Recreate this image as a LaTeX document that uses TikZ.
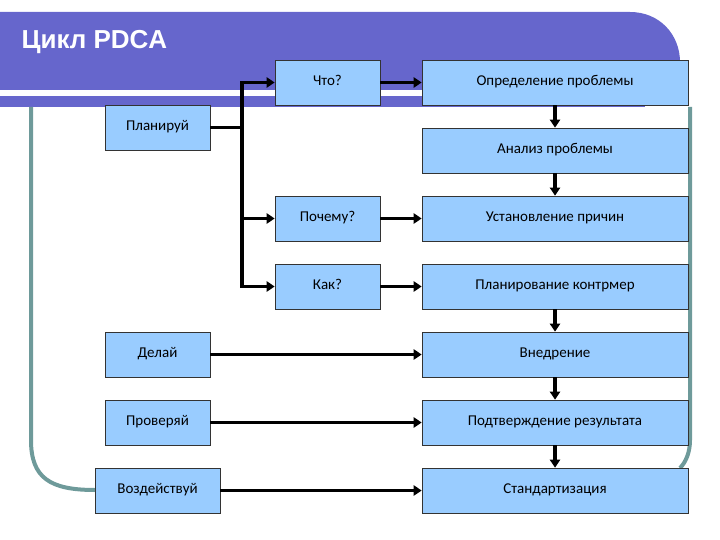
\documentclass[tikz,border=0pt]{standalone}
\usepackage{fontspec}
\setmainfont{Carlito}
\newfontfamily\titlefont{Liberation Sans}
\usetikzlibrary{arrows.meta}
\definecolor{band}{HTML}{6666CC}
\definecolor{boxfill}{HTML}{99CCFF}
\definecolor{loopcol}{HTML}{6E9A9A}
\begin{document}
\begin{tikzpicture}[x=1pt,y=-1pt,
  box/.style={draw=black!80,line width=0.6pt,fill=boxfill,font=\fontsize{15}{17}\selectfont,inner sep=0pt},
  arr/.style={line width=3.5pt,-{Triangle[length=8pt,width=10pt]}},
  ln/.style={line width=3.5pt},
  cyc/.style={draw=loopcol,line width=4pt}]
\useasboundingbox (0,0) rectangle (720,540);
% header band
\fill[band] (0,12) -- (630,12) .. controls (660,12) and (680,35) .. (680,62) -- (680,90) -- (0,90) -- cycle;
\fill[band] (0,96) rectangle (645,107);
\node[anchor=west,text=white,font=\titlefont\bfseries\fontsize{26}{30}\selectfont] (title) at (18,42) {Цикл PDCA};
% loop
\draw[cyc] (31,107) -- (31,440) .. controls (31,478) and (50,490) .. (95,490);
\draw[cyc] (690,107) -- (690,440) .. controls (690,452) and (686,462) .. (680,468);
% boxes
\newcommand{\bx}[6]{\node[box,minimum width=#4-#2,minimum height=#5-#3] (#1) at ({(#2+#4)/2},{(#3+#5)/2}) {\strut #6};}
\bx{what}{275}{60}{380}{105}{Что?}
\bx{def}{422}{60}{688}{105}{Определение проблемы}
\bx{plan}{105}{105}{210}{150}{Планируй}
\bx{anal}{422}{128}{688}{173}{Анализ проблемы}
\bx{why}{275}{196}{380}{241}{Почему?}
\bx{cause}{422}{196}{688}{241}{Установление причин}
\bx{how}{275}{264}{380}{309}{Как?}
\bx{cm}{422}{264}{688}{309}{Планирование контрмер}
\bx{do}{105}{332}{210}{377}{Делай}
\bx{impl}{422}{332}{688}{377}{Внедрение}
\bx{check}{105}{400}{210}{445}{Проверяй}
\bx{conf}{422}{400}{688}{445}{Подтверждение результата}
\bx{act}{95}{468}{220}{513}{Воздействуй}
\bx{std}{422}{468}{688}{513}{Стандартизация}
\coordinate (j) at (242,127.5);
\draw[ln] (plan.east) -- (j);
\draw[arr] (j) |- (what.west);
\draw[arr] (j) |- (why.west);
\draw[arr] (j) |- (how.west);
\draw[arr] (what) -- (def);
\draw[arr] (why) -- (cause);
\draw[arr] (how) -- (cm);
\draw[arr] (do) -- (impl);
\draw[arr] (check) -- (conf);
\draw[arr] (act) -- (std);
\foreach \a/\b in {def/anal,anal/cause,cm/impl,impl/conf,conf/std}
  \draw[arr] (\a.south) -- (\b.north);
\end{tikzpicture}
\end{document}
